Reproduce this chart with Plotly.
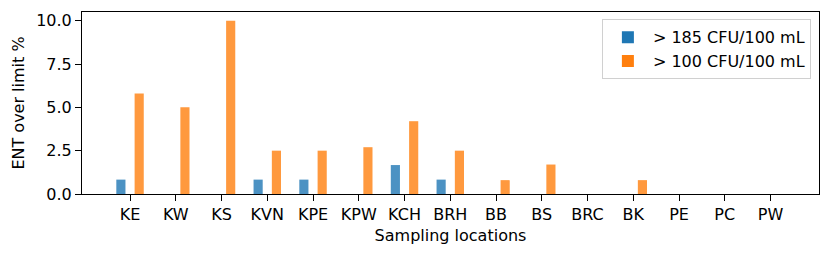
import plotly.graph_objects as go

categories = ["KE", "KW", "KS", "KVN", "KPE", "KPW", "KCH", "BRH", "BB", "BS", "BRC", "BK", "PE", "PC", "PW"]
over_185 = [0.83, 0, 0, 0.83, 0.83, 0, 1.67, 0.83, 0, 0, 0, 0, 0, 0, 0]
over_100 = [5.8, 5.0, 10.0, 2.5, 2.5, 2.7, 4.2, 2.5, 0.8, 1.7, 0, 0.8, 0, 0, 0]
series_names = ["> 185 CFU/100 mL", "> 100 CFU/100 mL"]
y_ticks = [0, 2.5, 5.0, 7.5, 10.0]

idx = list(range(len(categories)))
font = "DejaVu Sans, sans-serif"
fs = 16

fig = go.Figure()
fig.add_trace(go.Bar(x=idx, y=over_185, name=series_names[0], width=0.2, offset=-0.3,
                     marker=dict(color="#1f77b4", opacity=0.8, line=dict(width=0))))
fig.add_trace(go.Bar(x=idx, y=over_100, name=series_names[1], width=0.2, offset=0.1,
                     marker=dict(color="#ff7f0e", opacity=0.8, line=dict(width=0))))

fig.update_layout(
    width=830, height=256,
    margin=dict(l=82, r=11, t=12, b=62, autoexpand=False),
    paper_bgcolor="white", plot_bgcolor="white",
    barmode="overlay",
    font=dict(family=font, size=fs, color="black"),
    showlegend=True,
    legend=dict(x=0.989, y=0.96, xanchor="right", yanchor="top",
                bordercolor="#d0d0d0", borderwidth=1, bgcolor="rgba(255,255,255,0.8)",
                font=dict(family=font, size=fs), tracegroupgap=0, itemwidth=40),
)
fig.update_xaxes(range=[-1.05, 15.06], tickmode="array", tickvals=idx, ticktext=categories,
                 tickfont=dict(family=font, size=fs),
                 ticks="outside", ticklen=6, tickcolor="black", showline=True, linecolor="black",
                 linewidth=1, mirror=True, showgrid=False, zeroline=False, automargin=False,
                 title=dict(text="Sampling locations", standoff=6, font=dict(family=font, size=fs)))
fig.update_yaxes(range=[0, 10.5], tickmode="array", tickvals=y_ticks,
                 ticktext=[f"{v:.1f}" for v in y_ticks],
                 tickfont=dict(family=font, size=fs),
                 ticks="outside", ticklen=6, tickcolor="black", showline=True, linecolor="black",
                 linewidth=1, mirror=True, showgrid=False, zeroline=False, automargin=False,
                 title=dict(text="ENT over limit %", standoff=7, font=dict(family=font, size=fs)))

fig.write_html("out.html", config={"displayModeBar": False},
               post_script="document.body.style.margin='0';document.body.style.overflow='hidden';")
